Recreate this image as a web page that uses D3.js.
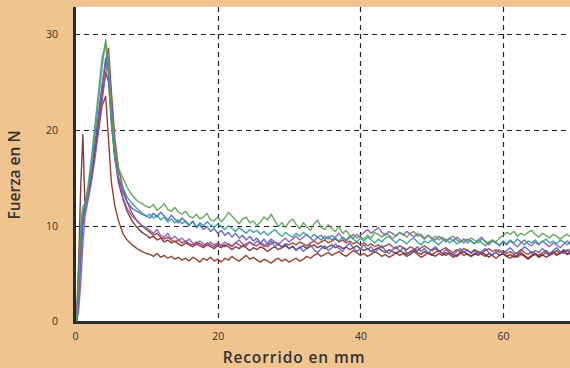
<!DOCTYPE html>
<html>
<head>
<meta charset="utf-8">
<script src="https://cdn.jsdelivr.net/npm/d3@7"></script>
<style>
  html, body { margin: 0; padding: 0; background: #efc48f; }
  svg { display: block; }
  .tick text { font-family: "Open Sans", sans-serif; font-size: 10.5px; fill: #333; }
  .title { font-family: "Open Sans", sans-serif; font-size: 15.5px; font-weight: 600; fill: #333; }
</style>
</head>
<body>
<svg id="chart" width="570" height="368"></svg>
<script>
// Recorrido (mm) shared by every test curve
const recorrido = [
  0.2, 0.5, 0.8, 1.1, 1.4, 1.8, 2.3, 2.8, 3.3, 3.8, 4.3, 4.7, 5.1, 5.6, 6.1, 6.7, 7.3, 8.0, 8.7, 9.4, 10.0,
  10.5, 11, 11.5, 12, 12.5, 13, 13.5, 14, 14.5, 15,
  15.5, 16, 16.5, 17, 17.5, 18, 18.5, 19, 19.5, 20,
  20.5, 21, 21.5, 22, 22.5, 23, 23.5, 24, 24.5, 25,
  25.5, 26, 26.5, 27, 27.5, 28, 28.5, 29, 29.5, 30,
  30.5, 31, 31.5, 32, 32.5, 33, 33.5, 34, 34.5, 35,
  35.5, 36, 36.5, 37, 37.5, 38, 38.5, 39, 39.5, 40,
  40.5, 41, 41.5, 42, 42.5, 43, 43.5, 44, 44.5, 45,
  45.5, 46, 46.5, 47, 47.5, 48, 48.5, 49, 49.5, 50,
  50.5, 51, 51.5, 52, 52.5, 53, 53.5, 54, 54.5, 55,
  55.5, 56, 56.5, 57, 57.5, 58, 58.5, 59, 59.5, 60,
  60.5, 61, 61.5, 62, 62.5, 63, 63.5, 64, 64.5, 65,
  65.5, 66, 66.5, 67, 67.5, 68, 68.5, 69, 69.5, 70
];

// Fuerza (N) for each curve
const fuerzaVerde = [
  0, 4, 9, 11.5, 12, 13.5, 16, 19.5, 23, 26.5, 29.4, 27, 22, 18, 16, 15, 14, 13.2, 12.6, 12.3, 12.0,
  11.9, 12.2, 11.6, 11.9, 12.3, 11.7, 11.5, 11.9, 11.4, 11.2,
  11.5, 11.0, 10.8, 11.2, 10.7, 10.9, 11.3, 10.6, 10.5, 10.9,
  10.4, 10.8, 11.4, 11.0, 10.6, 10.2, 10.7, 10.9, 10.3, 10.5,
  10.0, 10.4, 10.9, 10.6, 11.2, 10.5, 9.9, 10.3, 9.8, 10.4,
  10.7, 10.1, 9.7, 10.3, 9.9, 9.5, 10.2, 10.6, 9.8, 9.6,
  10.1, 9.7, 9.4, 9.9, 9.2, 9.5, 9.0, 8.7, 9.1, 8.8,
  8.6, 9.0, 8.7, 9.3, 9.1, 8.8, 9.2, 9.0, 8.6, 9.0,
  9.3, 9.1, 8.8, 9.2, 9.4, 8.9, 9.1, 8.7, 9.0, 8.6,
  8.9, 8.5, 8.8, 8.4, 8.7, 8.9, 8.5, 8.3, 8.6, 8.4,
  8.7, 8.5, 8.2, 8.6, 8.4, 8.1, 8.5, 8.3, 8.7, 9.0,
  9.3, 9.1, 9.4, 8.9, 9.2, 9.0, 9.3, 9.5, 9.1, 8.8,
  9.2, 9.0, 8.7, 9.1, 8.9, 8.6, 8.9, 9.1, 8.8, 8.6
];
const fuerzaTurquesa = [
  0, 5, 10, 12, 12.3, 14, 17, 20.5, 24, 27.5, 29.0, 25.5, 20.5, 17, 15, 14, 13, 12.3, 11.8, 11.3, 11.0,
  11.2, 10.8, 11.1, 10.6, 10.9, 10.4, 10.7, 10.3, 10.6, 10.2,
  10.5, 10.1, 10.4, 9.9, 10.3, 10.0, 10.4, 10.1, 9.8, 10.2,
  9.9, 9.6, 10.0, 9.7, 9.4, 9.8, 9.5, 9.2, 9.6, 9.3,
  9.5, 9.1, 9.4, 9.0, 9.3, 9.6, 9.2, 8.9, 9.3, 9.0,
  8.8, 9.2, 8.9, 9.3, 9.0, 8.7, 9.1, 8.8, 8.5, 8.9,
  8.6, 9.0, 8.7, 8.4, 8.8, 8.5, 8.9, 8.6, 8.3, 8.7,
  8.4, 8.8, 8.5, 8.2, 8.6, 8.3, 8.7, 8.9, 8.5, 8.2,
  8.6, 8.4, 8.1, 8.5, 8.7, 8.3, 8.0, 8.4, 8.2, 8.5,
  8.3, 8.0, 8.4, 8.6, 8.2, 8.5, 8.1, 8.3, 8.6, 8.2,
  8.4, 8.1, 8.5, 8.2, 7.9, 8.3, 8.5, 8.2, 8.0, 8.4,
  8.1, 8.5, 8.2, 8.6, 8.3, 8.0, 8.4, 8.2, 8.5, 8.1,
  8.3, 8.6, 8.2, 8.4, 8.1, 8.5, 8.3, 8.0, 8.4, 8.2
];
const fuerzaAzul = [
  0, 2, 6, 10, 11.5, 13, 15.5, 18.5, 21.5, 24.5, 27.5, 26, 21, 17, 15, 13.5, 12.5, 11.8, 11.5, 11.2, 11.0,
  10.8, 11.3, 10.9, 11.4, 11.0, 10.6, 11.1, 10.7, 10.3, 10.8,
  10.4, 10.0, 10.5, 9.8, 10.1, 9.6, 9.9, 9.4, 9.7, 9.2,
  9.5, 9.0, 9.3, 8.8, 9.2, 8.7, 9.0, 8.5, 8.9, 8.4,
  8.7, 8.2, 8.6, 8.0, 8.4, 7.8, 8.2, 7.7, 8.1, 7.6,
  7.9, 7.4, 7.8, 7.3, 7.7, 8.0, 7.5, 7.2, 7.6, 7.9,
  7.4, 7.7, 8.1, 7.6, 7.3, 7.8, 8.2, 7.7, 7.3, 7.6,
  8.0, 7.5, 7.8, 7.2, 7.6, 7.9, 7.4, 7.1, 7.5, 7.8,
  7.3, 7.7, 7.2, 7.0, 7.4, 7.8, 7.3, 7.6, 7.1, 7.5,
  7.8, 7.4, 7.1, 7.5, 7.2, 6.9, 7.3, 7.6, 7.2, 7.5,
  7.1, 7.4, 7.0, 7.3, 7.6, 7.2, 6.9, 7.3, 7.5, 7.1,
  7.4, 7.7, 7.3, 7.0, 7.4, 7.8, 7.5, 7.1, 7.4, 7.2,
  7.6, 7.3, 7.0, 7.4, 7.7, 7.3, 7.1, 7.5, 7.2, 7.4
];
const fuerzaMorado = [
  0, 1, 4, 8, 11, 12.5, 14.5, 17, 20, 23, 26, 27.5, 23, 18, 15, 13, 11.8, 11, 10.5, 10, 9.8,
  9.5, 9.2, 9.6, 9.0, 8.8, 9.2, 8.6, 8.9, 8.5, 8.7,
  8.3, 8.6, 8.2, 8.0, 8.4, 8.1, 7.9, 8.3, 8.0, 8.2,
  7.9, 8.3, 8.0, 7.8, 8.2, 8.5, 8.1, 7.9, 8.3, 8.0,
  8.4, 8.1, 7.8, 8.2, 8.6, 8.3, 8.0, 8.4, 8.7, 8.3,
  8.6, 8.9, 8.5, 8.8, 9.1, 8.7, 8.4, 8.8, 9.0, 8.6,
  8.9, 8.5, 8.8, 9.2, 8.7, 8.4, 8.8, 9.1, 8.7, 9.0,
  9.3, 9.6, 9.2, 9.5, 9.8, 9.3, 9.0, 9.4, 9.2, 8.9,
  9.3, 9.0, 9.4, 9.1, 8.8, 9.2, 8.9, 8.6, 9.0, 8.7,
  8.5, 8.9, 8.6, 8.3, 8.7, 8.4, 8.8, 8.5, 8.2, 8.6,
  8.4, 8.1, 8.5, 8.8, 8.3, 8.0, 8.4, 8.2, 7.9, 8.3,
  8.0, 8.4, 8.1, 7.8, 8.2, 8.5, 8.1, 7.9, 8.3, 8.0,
  8.4, 8.1, 7.8, 8.2, 8.0, 7.7, 8.1, 8.4, 8.0, 7.8
];
const fuerzaGranateBajo = [
  0, 3, 8, 11, 12, 13, 15, 17.5, 20, 22.5, 23.5, 19, 14.5, 12, 10.5, 9.2, 8.5, 8, 7.6, 7.3, 7.1,
  7.0, 6.8, 7.1, 6.7, 6.9, 6.6, 6.8, 6.5, 6.7, 6.4,
  6.6, 6.3, 6.7, 6.5, 6.2, 6.6, 6.4, 6.7, 6.3, 6.5,
  6.2, 6.6, 6.4, 6.8, 6.5, 6.3, 6.6, 6.9, 6.5, 6.7,
  6.4, 6.2, 6.5, 6.3, 6.1, 6.4, 6.6, 6.3, 6.5, 6.2,
  6.4, 6.6, 6.3, 6.5, 6.8, 6.6, 6.9, 7.1, 6.8, 7.0,
  7.2, 6.9, 7.1, 7.3, 7.0, 6.8, 7.1, 7.4, 7.2, 6.9,
  7.1, 6.8, 7.0, 7.3, 7.1, 6.8, 7.0, 6.7, 6.9, 7.2,
  6.9, 7.1, 6.8, 7.0, 7.3, 7.0, 6.7, 6.9, 7.2, 7.0,
  6.8, 7.1, 6.9, 7.2, 7.0, 6.7, 6.9, 7.2, 6.9, 7.1,
  6.8, 7.0, 7.3, 7.0, 6.8, 7.1, 6.9, 6.6, 6.9, 7.1,
  6.8, 6.6, 6.9, 6.7, 7.0, 6.8, 6.5, 6.8, 7.0, 6.7,
  6.9, 7.2, 6.9, 7.1, 7.4, 7.1, 7.3, 7.0, 7.2, 7.5
];
const fuerzaGranateAlto = [
  0, 4, 9, 11.5, 12, 13.5, 16, 18.5, 21.5, 24.5, 27, 28.5, 24, 19, 16, 14, 12.5, 11.3, 10.5, 10, 9.6,
  9.3, 9.0, 9.2, 8.8, 8.6, 8.8, 8.5, 8.3, 8.5, 8.2,
  8.4, 8.1, 8.0, 8.3, 8.1, 7.9, 8.2, 8.0, 7.8, 8.1,
  8.0, 7.8, 8.1, 7.9, 8.2, 8.0, 7.8, 8.1, 8.3, 8.0,
  7.9, 8.2, 8.0, 7.8, 8.1, 8.3, 8.0, 7.8, 8.1, 8.0,
  8.2, 8.0, 8.3, 8.1, 7.9, 8.2, 8.4, 8.1, 8.3, 8.5,
  8.2, 8.4, 8.6, 8.3, 8.5, 8.2, 8.4, 8.1, 8.3, 8.0,
  8.2, 7.9, 8.1, 7.8, 8.0, 7.7, 7.9, 8.1, 7.8, 7.6,
  7.9, 7.7, 7.5, 7.8, 7.6, 7.4, 7.7, 7.9, 7.6, 7.4,
  7.6, 7.3, 7.5, 7.7, 7.4, 7.2, 7.5, 7.3, 7.6, 7.4,
  7.2, 7.5, 7.3, 7.1, 7.4, 7.6, 7.3, 7.5, 7.2, 7.4,
  7.1, 7.3, 7.0, 7.2, 7.5, 7.2, 7.0, 7.3, 7.1, 6.9,
  7.2, 7.4, 7.1, 7.3, 7.0, 7.2, 7.5, 7.3, 7.6, 7.8
];
const fuerzaBurdeos = [
  0, 6, 14, 19.5, 12, 13, 15, 17.5, 20.5, 23.5, 26, 25, 21, 17, 14.5, 12.8, 11.5, 10.5, 9.8, 9.3, 9.0,
  8.7, 8.9, 8.5, 8.7, 8.3, 8.5, 8.2, 8.4, 8.1, 7.9,
  8.2, 8.0, 7.8, 8.1, 7.9, 7.7, 8.0, 7.8, 7.6, 7.9,
  7.7, 8.0, 7.8, 7.5, 7.8, 7.6, 7.9, 7.7, 7.4, 7.7,
  7.5, 7.8, 7.6, 7.3, 7.6, 7.8, 7.5, 7.7, 7.9, 7.6,
  7.8, 7.5, 7.7, 7.9, 7.6, 7.8, 8.0, 7.7, 7.9, 7.6,
  7.8, 8.0, 7.7, 7.9, 7.6, 7.8, 7.5, 7.7, 7.9, 7.6,
  7.4, 7.6, 7.3, 7.5, 7.7, 7.4, 7.2, 7.5, 7.3, 7.1,
  7.4, 7.2, 7.0, 7.3, 7.5, 7.2, 7.0, 7.3, 7.1, 6.9,
  7.2, 7.4, 7.1, 6.9, 7.2, 7.0, 6.8, 7.1, 7.3, 7.0,
  6.8, 7.1, 6.9, 7.2, 7.0, 6.7, 7.0, 7.2, 6.9, 7.1,
  6.8, 7.0, 6.7, 6.9, 7.2, 6.9, 6.6, 6.9, 7.1, 6.8,
  7.0, 6.7, 6.9, 7.2, 6.9, 7.1, 7.4, 7.0, 7.3, 7.1
];

const xTicks = [0, 20, 40, 60];
const yTicks = [0, 10, 20, 30];
const xTitle = "Recorrido en mm";
const yTitle = "Fuerza en N";

const series = [
  { values: fuerzaGranateBajo, color: "#8e2b1f" },
  { values: fuerzaBurdeos,     color: "#7d2430" },
  { values: fuerzaGranateAlto, color: "#a03a26" },
  { values: fuerzaAzul,        color: "#4f5fc6" },
  { values: fuerzaMorado,      color: "#8c52c2" },
  { values: fuerzaTurquesa,    color: "#2f9a9a" },
  { values: fuerzaVerde,       color: "#5a9e4e" }
];

const svg = d3.select("#chart");
const W = 570, H = 368;
const plotLeft = 75, plotTop = 7, plotBottom = 322;

const x = d3.scaleLinear().domain([0, 70]).range([plotLeft, plotLeft + 70 * 7.135]);
const y = d3.scaleLinear().domain([0, 30]).range([321.5, 34]);

// white plotting area
svg.append("rect")
  .attr("x", plotLeft).attr("y", plotTop)
  .attr("width", W - plotLeft).attr("height", plotBottom - plotTop)
  .attr("fill", "#ffffff");

svg.append("clipPath").attr("id", "plotClip")
  .append("rect")
  .attr("x", plotLeft).attr("y", plotTop)
  .attr("width", W - plotLeft).attr("height", plotBottom - plotTop);

// dashed grid
const grid = svg.append("g").attr("stroke", "#222").attr("stroke-width", 1.2)
  .attr("stroke-dasharray", "5,4");
grid.selectAll("line.h").data(yTicks.filter(d => d > 0)).join("line")
  .attr("class", "h")
  .attr("x1", plotLeft).attr("x2", W)
  .attr("y1", d => Math.round(y(d)) + 0.5).attr("y2", d => Math.round(y(d)) + 0.5);
grid.selectAll("line.v").data(xTicks.filter(d => d > 0)).join("line")
  .attr("class", "v")
  .attr("y1", plotTop).attr("y2", plotBottom)
  .attr("x1", d => Math.round(x(d)) + 0.5).attr("x2", d => Math.round(x(d)) + 0.5);

// force curves
const line = d3.line()
  .x((d, i) => x(recorrido[i]))
  .y(d => y(d));

svg.append("g").attr("clip-path", "url(#plotClip)")
  .selectAll("path").data(series).join("path")
  .attr("d", d => line(d.values))
  .attr("fill", "none")
  .attr("stroke", d => d.color)
  .attr("stroke-width", 1.4)
  .attr("stroke-linejoin", "round")
  .attr("opacity", 0.9);

// axes
const xAxis = d3.axisBottom(x).tickValues(xTicks).tickSize(0).tickPadding(11);
const yAxis = d3.axisLeft(y).tickValues(yTicks).tickSize(0).tickPadding(17);

const gx = svg.append("g").attr("transform", `translate(0,${plotBottom})`).call(xAxis);
gx.select(".domain").remove();
const gy = svg.append("g").attr("transform", `translate(${plotLeft},0)`).call(yAxis);
gy.select(".domain").remove();

svg.append("line")
  .attr("x1", plotLeft - 1).attr("x2", W)
  .attr("y1", plotBottom + 0.5).attr("y2", plotBottom + 0.5)
  .attr("stroke", "#2b2b2b").attr("stroke-width", 3);
svg.append("line")
  .attr("x1", plotLeft - 0.5).attr("x2", plotLeft - 0.5)
  .attr("y1", plotTop).attr("y2", plotBottom + 2)
  .attr("stroke", "#2b2b2b").attr("stroke-width", 3);

// titles
svg.append("text").attr("class", "title")
  .attr("x", 294).attr("y", 363)
  .attr("text-anchor", "middle")
  .attr("letter-spacing", "0.9px")
  .text(xTitle);
svg.append("text").attr("class", "title")
  .attr("transform", "translate(20,175) rotate(-90)")
  .attr("text-anchor", "middle")
  .text(yTitle);
</script>
</body>
</html>
